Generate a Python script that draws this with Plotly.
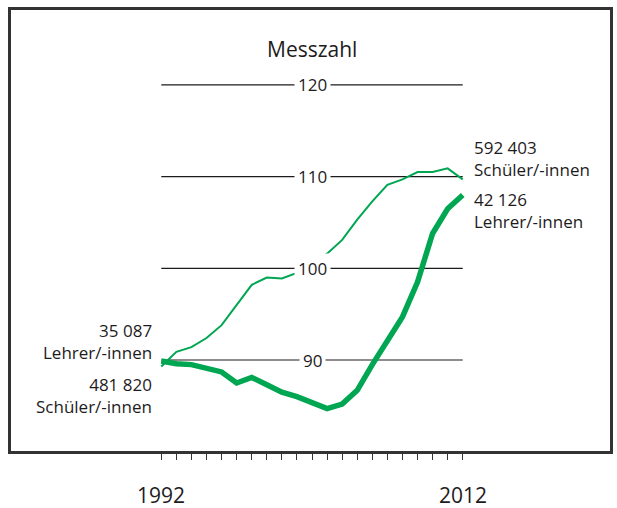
import plotly.graph_objects as go

# data (Messzahl, index)
years = list(range(1992, 2013))
schueler = [89.3, 90.9, 91.4, 92.4, 93.8, 96.0, 98.2, 99.0, 98.9, 99.5, 100.5, 101.6,
            103.1, 105.3, 107.3, 109.1, 109.7, 110.5, 110.5, 110.9, 109.7]
lehrer = [89.9, 89.6, 89.5, 89.1, 88.7, 87.5, 88.1, 87.3, 86.5, 86.0, 85.3, 84.7,
          85.2, 86.7, 89.5, 92.2, 94.7, 98.5, 103.8, 106.5, 108.0]

grid_values = [90, 100, 110, 120]
year_labels = ["1992", "2012"]

start_labels = ["35 087<br>Lehrer/-innen", "481 820<br>Schüler/-innen"]
end_labels = ["592 403<br>Schüler/-innen", "42 126<br>Lehrer/-innen"]

GREEN = "#00A651"
INK = "#1E1B1C"
FONT = "Open Sans"

fig = go.Figure()

fig.add_trace(go.Scatter(x=years, y=schueler, mode="lines",
                         line=dict(color=GREEN, width=2), hoverinfo="skip"))
fig.add_trace(go.Scatter(x=years, y=lehrer, mode="lines",
                         line=dict(color=GREEN, width=5.5), hoverinfo="skip"))

mid = (years[0] + years[-1]) / 2

# grid lines with labels sitting on them
for v in grid_values:
    fig.add_shape(type="line", x0=years[0], x1=years[-1], y0=v, y1=v,
                  line=dict(color=INK, width=1.1), layer="below")
    fig.add_annotation(x=mid, y=v, text=str(v), showarrow=False,
                       font=dict(size=17, family=FONT, color=INK),
                       bgcolor="white", borderpad=3)

fig.add_annotation(x=mid, y=123.9, text="Messzahl", showarrow=False,
                   font=dict(size=21, family=FONT, color=INK))

# start / end labels
for txt, yy in zip(start_labels, [92.0, 86.1]):
    fig.add_annotation(x=years[0] - 0.46, y=yy, text=txt, showarrow=False,
                       xanchor="right", align="right",
                       font=dict(size=17, family=FONT, color=INK))
for txt, yy in zip(end_labels, [112.0, 106.3]):
    fig.add_annotation(x=years[-1] + 0.59, y=yy, text=txt, showarrow=False,
                       xanchor="left", align="left",
                       font=dict(size=17, family=FONT, color=INK))

# year labels under the axis
for txt, xx in zip(year_labels, [years[0], years[-1]]):
    fig.add_annotation(x=xx, xref="x", y=-0.135, yref="paper", text=txt,
                       showarrow=False,
                       font=dict(size=21, family=FONT, color=INK))

fig.update_layout(
    width=617,
    height=508,
    margin=dict(l=11, r=4, t=10, b=57),
    paper_bgcolor="white",
    plot_bgcolor="white",
    showlegend=False,
    xaxis=dict(
        range=[1982.03, 2021.77],
        showgrid=False,
        zeroline=False,
        showline=True,
        linecolor="#333333",
        linewidth=2.5,
        mirror=True,
        tickvals=years,
        ticktext=["" for _ in years],
        ticks="outside",
        ticklen=6,
        tickwidth=1,
        tickcolor="#333333",
    ),
    yaxis=dict(
        range=[80.08, 128.17],
        showgrid=False,
        zeroline=False,
        showline=True,
        linecolor="#333333",
        linewidth=2.5,
        mirror=True,
        showticklabels=False,
        ticks="",
    ),
)

fig.write_html("out.html", config={"displayModeBar": False},
               post_script="document.body.style.margin='0';")
